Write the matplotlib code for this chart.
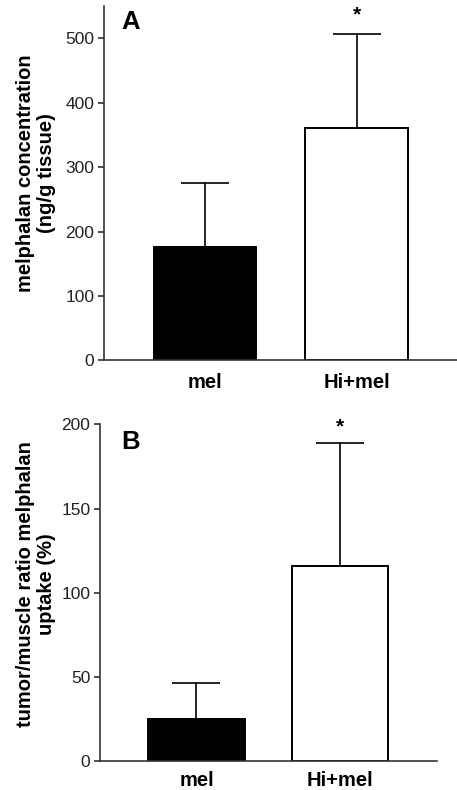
import matplotlib
matplotlib.use('Agg')
import matplotlib.pyplot as plt

plt.rcParams['font.family'] = ['Liberation Sans', 'DejaVu Sans']

groups = ['mel', 'Hi+mel']

conc_means = [176, 360]
conc_sd = [100, 147]
conc_star = 536

ratio_means = [25, 116]
ratio_sd = [21, 73]
ratio_star = 198.5

colors = ['black', 'white']

fig = plt.figure(figsize=(4.57, 7.90), dpi=100)
axA = fig.add_axes([0.2276, 0.5437, 0.7724, 0.4487])
axB = fig.add_axes([0.2188, 0.0371, 0.7374, 0.4256])


def draw_panel(ax, means, sd, star, ylim, yticks, letter_xy, letter, ylabel, label_y, xlim, xpad):
    x = list(range(len(groups)))
    ax.bar(x, means, width=0.675, color=colors, edgecolor='black', linewidth=1.4, zorder=2)
    ax.errorbar(x, means, yerr=[[0, 0], sd], fmt='none', ecolor='black',
                elinewidth=1.2, capsize=17.5, capthick=1.2, zorder=1)
    ax.text(1, star, '*', ha='center', va='center', fontsize=15, fontweight='bold')
    ax.set_xlim(*xlim)
    ax.set_ylim(*ylim)
    ax.set_yticks(yticks)
    ax.set_xticks(x)
    ax.set_xticklabels(groups, fontsize=14.5, fontweight='bold')
    ax.tick_params(axis='x', length=0, pad=xpad)
    ax.tick_params(axis='y', length=4.5, width=1.1, pad=2.5, labelsize=12.5, colors='#222222')
    for s in ['top', 'right']:
        ax.spines[s].set_visible(False)
    for s in ['left', 'bottom']:
        ax.spines[s].set_linewidth(1.2)
        ax.spines[s].set_color('#333333')
    fig.text(letter_xy[0], letter_xy[1], letter, ha='center', va='center',
             fontsize=18.5, fontweight='bold')
    fig.text(36 / 457, label_y, ylabel, ha='center', va='center', rotation=90,
             fontsize=14.5, fontweight='bold', multialignment='center', linespacing=1.1)


draw_panel(axA, conc_means, conc_sd, conc_star, (0, 550), [0, 100, 200, 300, 400, 500],
           (131 / 457, 0.9722), 'A', 'melphalan concentration\n(ng/g tissue)', 0.7804,
           (-0.667, 1.663), 9)
draw_panel(axB, ratio_means, ratio_sd, ratio_star, (0, 200), [0, 50, 100, 150, 200],
           (131 / 457, 0.4409), 'B', 'tumor/muscle ratio melphalan\nuptake (%)', 0.2608,
           (-0.672, 1.676), 7.5)

fig.savefig('out.png', dpi=100)
